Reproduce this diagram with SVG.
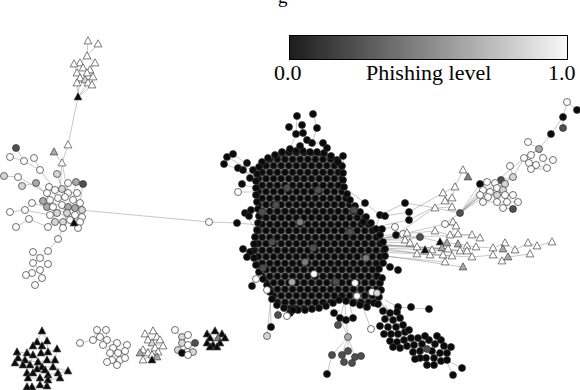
<svg xmlns="http://www.w3.org/2000/svg" xmlns:xlink="http://www.w3.org/1999/xlink" width="580" height="390" viewBox="0 0 580 390">
<style>
.w{fill:#fff}.l{fill:#d6d6d6}.g{fill:#a9a9a9}.m{fill:#7c7c7c}.d{fill:#4f4f4f}.k{fill:#0a0a0a}
.e{stroke:#8e8e8e;stroke-width:.5;fill:none}
.lab{font-family:"Liberation Serif","Times New Roman",serif;fill:#000}
</style>
<defs>
<circle id="c" r="3.5" stroke="#333" stroke-width=".7"/>
<path id="t" d="M0,-4.2L3.9,2.9H-3.9Z" stroke="#444" stroke-width=".7" stroke-linejoin="round"/>
<linearGradient id="bar" x1="0" x2="1" y1="0" y2="0"><stop offset="0" stop-color="#1c1c1c"/><stop offset="1" stop-color="#f8f8f8"/></linearGradient>
<pattern id="pk" width="7.6" height="13" patternUnits="userSpaceOnUse"><rect width="7.6" height="13" fill="#7a7a7a"/><g fill="#0a0a0a" stroke="#3a3a3a" stroke-width=".6"><circle cx="3.8" cy="3.25" r="3.4"/><circle cx="0" cy="9.75" r="3.4"/><circle cx="7.6" cy="9.75" r="3.4"/></g></pattern>
</defs>
<rect width="580" height="390" fill="#fff"/>
<text class="lab" x="278" y="3" font-size="19">g</text>
<g id="colorbar">
<rect x="289.5" y="35.5" width="278" height="24" fill="url(#bar)" stroke="#000" stroke-width="1"/>
<text class="lab" x="274" y="80" font-size="22">0.0</text>
<text class="lab" x="366" y="80" font-size="22">Phishing level</text>
<text class="lab" x="548" y="80" font-size="22">1.0</text>
</g>
<g id="connectors">
<path class="e" d="M88,41L87,56M98,44L87,56M87,56L80,63M87,56L95,63M80,63L83,68M74,64L77,73M95,63L90,70M83,68L87,73M90,70L93,77M77,73L80,78M87,73L85,80M80,78L88,83M85,80L77,83M93,77L92,85M88,83L78,97M80,78L78,97M77,83L78,97M92,85L78,97M78,97L68,145M68,145L62,163M54,152L62,163M62,163L60,189M62,163L68,193M16,148L24,161M10,157L24,161M24,161L40,170M34,158L40,170M40,170L55,190M4,176L18,177M18,177L47,193M22,186L36,183M36,183L50,200M57,174L62,189M49,187L58,198M68,183L65,197M76,182L73,200M83,184L80,203M10,212L25,210M25,210L32,203M32,203L47,207M25,210L50,215M29,219L48,227M16,227L29,219M74,223L63,208M74,223L82,210M58,239L63,228M58,239L48,251M48,251L40,258M33,252L40,258M40,258L33,263M40,258L48,264M33,263L40,270M48,264L40,270M40,270L32,273M32,273L27,275M40,270L42,278M42,278L35,285M55,190L76,193M47,207L75,215M50,200L80,221M53,207L78,228M62,205L48,227M68,207L63,228M80,210L209,222L237,223"/>
<path class="e" d="M268,262L252,286M268,262L256,279M270,270L267,290M265,255L243,249M265,255L250,252M265,258L247,257M270,280L271,327M272,285L267,336M275,290L278,315M285,295L287,316M290,300L290,313M300,300L293,310M262,240L245,213M262,230L248,215M260,225L237,223M262,220L260,218M297,116L296,134M313,114L317,128M289,127L296,134M302,125L303,133M317,128L312,143M303,133L307,140M296,134L290,149M307,140L300,147M312,143L323,143M323,143L327,148M233,154L255,170M227,157L255,172M224,164L258,176M238,168L258,180M243,185L258,188M238,192L258,192M343,156L345,188L365,203M365,203L354,210M365,203L380,215M372,222L363,222M375,230L380,215M380,215L405,203M380,218L385,216M385,216L409,212M385,225L409,220M382,229L395,227M385,238L396,235M385,238L403,234M405,203L435,208M409,212L443,193M409,220L452,198M403,234L445,224M396,235L434,208"/>
<path class="e" d="M380,245L416,247M380,248L430,255M380,250L442,255M382,240L405,240M380,242L410,243M378,236L435,231M380,245L441,248M380,246L448,249M380,248L460,251M380,244L467,251M378,238L471,235M382,252L452,256M383,256L445,262M380,255L463,267M378,240L420,237M385,262L398,270M383,262L390,267M378,275L382,278M405,240L420,237L440,242L458,244L476,247L493,248L505,243L515,250L528,243L537,246L552,242M416,247L425,250L431,250L442,248L448,249L460,251L467,251M430,255L443,255L452,256L472,257L493,255L502,261L508,257L530,254M445,224L456,226L450,235L458,234L472,235L480,238M435,231L450,235M463,170L468,177M463,170L455,187M455,187L443,193M455,187L452,198M443,193L452,207M435,208L452,207M451,197L445,201M460,213L480,184M460,213L483,190M460,213L480,195M460,213L487,182M460,213L501,180M460,213L513,177M460,213L524,158M460,213L444,224M460,213L435,208M567,102L577,110M567,102L563,117M563,117L563,128M563,117L551,134M551,134L539,149M539,149L528,142M539,149L531,155M539,149L524,158M539,149L543,158M531,155L529,163M543,158L553,160M543,158L547,168M529,163L536,165M536,165L546,168M531,169L546,169M513,177L524,158M510,166L513,177M513,177L501,180M513,177L496,188M501,180L505,184M480,184L487,182M487,182L495,183M495,183L505,184M483,190L490,192M490,192L497,188M497,188L503,190M480,195L488,197M488,197L497,195M497,195L505,195M505,195L513,195M483,202L497,202M497,202L507,202M507,202L518,202M503,208L513,209"/>
<path class="e" d="M398,307L411,308M411,308L429,309M385,300L398,307M378,300L390,313M375,305L383,312M380,300L396,327M385,305L405,332M390,320L415,344M395,330L436,346M400,335L440,354M405,340L446,360M410,340L428,342M446,360L462,368M446,360L453,375M345,300L340,318M345,305L346,320M350,305L353,318M340,310L334,313M340,318L348,337M346,320L348,337M348,337L342,355M348,337L355,357M348,337L348,352M348,337L332,355M332,355L327,374M360,300L371,329M365,290L372,292M360,285L357,296"/>
<path class="e" d="M42,331L37,342M42,331L47,341M37,342L33,346M47,341L42,346M42,346L41,353M41,353L48,352M48,352L57,349M17,352L27,353M27,353L33,355M18,358L25,360M25,360L38,362M38,362L47,360M47,360L55,360M15,363L23,365M23,365L30,365M30,365L42,367M42,367L53,367M45,370L37,369M27,373L33,373M48,375L58,373M58,373L68,371M28,378L40,378M40,378L48,380M60,378L48,380M40,385L32,387M32,387L27,387M47,386L40,385M33,346L27,353M57,349L55,360M33,355L30,365M38,362L42,367M55,360L53,367M37,369L33,373M45,370L48,375M33,373L28,378M48,375L48,380M40,378L40,385M17,352L18,358M25,360L23,365M47,341L48,352M53,367L68,371M60,378L58,373M80,343L93,340M93,340L97,330M97,330L106,330M93,340L100,337M100,337L107,340M106,330L107,340M107,340L117,343M107,340L103,345M103,345L113,348M113,348L115,347M117,343L127,345M113,348L110,353M110,353L118,353M118,353L125,351M118,353L120,360M110,353L112,360M112,360L107,362M112,360L117,365M120,360L125,358M117,365L120,360M125,351L125,358M103,345L110,353M117,343L118,353M145,334L153,331M153,331L157,337M145,334L148,340M148,340L160,340M157,337L160,340M148,340L152,343M152,343L163,346M152,343L155,348M143,350L155,348M155,348L158,352M143,350L148,353M148,353L140,353M148,353L152,355M152,355L143,360M152,355L152,360M157,357L152,355M158,352L157,357M175,330L182,337M182,337L188,335M182,337L182,343M182,343L188,345M188,345L195,343M182,343L178,350M178,350L187,352M187,352L193,352M183,353L188,355M207,334L215,331M215,331L222,334M207,334L210,338M210,338L218,338M218,338L225,338M207,343L213,345M213,345L220,343M220,343L217,347M210,347L213,345M210,338L207,343M218,338L220,343"/>
</g>
<g id="left-top-triangles">
<use href="#t" class="w" x="88" y="41"/><use href="#t" class="w" x="98" y="44"/><use href="#t" class="w" x="87" y="56"/><use href="#t" class="w" x="80" y="63"/><use href="#t" class="w" x="74" y="64"/><use href="#t" class="w" x="95" y="63"/><use href="#t" class="w" x="83" y="68"/><use href="#t" class="w" x="90" y="70"/><use href="#t" class="w" x="77" y="73"/><use href="#t" class="w" x="87" y="73"/><use href="#t" class="w" x="93" y="77"/><use href="#t" class="w" x="80" y="78"/><use href="#t" class="l" x="85" y="80"/><use href="#t" class="w" x="88" y="83"/><use href="#t" class="w" x="77" y="83"/><use href="#t" class="w" x="92" y="85"/>
<use href="#t" class="k" x="78" y="97"/>
<use href="#t" class="w" x="68" y="145"/><use href="#t" class="g" x="54" y="152"/><use href="#t" class="w" x="62" y="163"/>
</g>
<g id="left-cluster">
<use href="#c" class="d" x="16" y="148"/><use href="#c" class="w" x="10" y="157"/><use href="#c" class="w" x="24" y="161"/><use href="#c" class="w" x="34" y="158"/><use href="#c" class="w" x="40" y="170"/>
<use href="#c" class="l" x="4" y="176"/><use href="#c" class="w" x="18" y="177"/><use href="#c" class="l" x="22" y="186"/><use href="#c" class="g" x="36" y="183"/>
<use href="#c" class="l" x="57" y="174"/><use href="#c" class="w" x="49" y="187"/><use href="#c" class="w" x="68" y="183"/><use href="#c" class="g" x="76" y="182"/><use href="#c" class="d" x="83" y="184"/>
<use href="#c" class="w" x="47" y="193"/><use href="#c" class="w" x="55" y="190"/><use href="#c" class="l" x="62" y="189"/><use href="#c" class="w" x="68" y="193"/><use href="#c" class="w" x="77" y="193"/>
<use href="#c" class="g" x="43" y="201"/><use href="#c" class="w" x="50" y="200"/><use href="#c" class="w" x="58" y="198"/><use href="#c" class="w" x="65" y="197"/><use href="#c" class="w" x="73" y="200"/><use href="#c" class="w" x="80" y="203"/>
<use href="#c" class="g" x="47" y="207"/><use href="#c" class="w" x="53" y="207"/><use href="#c" class="w" x="62" y="205"/><use href="#c" class="g" x="68" y="207"/><use href="#c" class="g" x="75" y="208"/><use href="#c" class="l" x="82" y="210"/>
<use href="#c" class="w" x="50" y="215"/><use href="#c" class="l" x="57" y="213"/><use href="#c" class="l" x="67" y="213"/><use href="#c" class="w" x="75" y="215"/><use href="#c" class="w" x="82" y="217"/>
<use href="#c" class="l" x="55" y="222"/><use href="#c" class="l" x="63" y="222"/><use href="#c" class="w" x="70" y="220"/><use href="#c" class="w" x="80" y="222"/>
<use href="#c" class="w" x="48" y="227"/><use href="#c" class="w" x="63" y="228"/><use href="#c" class="w" x="78" y="228"/>
<use href="#c" class="w" x="10" y="212"/><use href="#c" class="w" x="25" y="210"/><use href="#c" class="w" x="32" y="203"/><use href="#c" class="w" x="29" y="219"/><use href="#c" class="w" x="16" y="227"/>
<use href="#t" class="k" x="74" y="223"/>
<use href="#c" class="w" x="58" y="239"/>
<use href="#c" class="w" x="33" y="252"/><use href="#c" class="w" x="48" y="251"/><use href="#c" class="w" x="40" y="258"/><use href="#c" class="w" x="33" y="263"/><use href="#c" class="w" x="48" y="264"/><use href="#c" class="w" x="40" y="270"/><use href="#c" class="w" x="32" y="273"/><use href="#c" class="w" x="26" y="275"/><use href="#c" class="w" x="42" y="278"/><use href="#c" class="w" x="35" y="285"/>
<use href="#c" class="w" x="209" y="222"/>
</g>
<g id="bottom-black-triangles">
<use href="#t" class="k" x="42" y="331"/><use href="#t" class="k" x="37" y="342"/><use href="#t" class="k" x="47" y="341"/><use href="#t" class="k" x="33" y="346"/><use href="#t" class="k" x="42" y="346"/><use href="#t" class="k" x="41" y="353"/><use href="#t" class="k" x="48" y="352"/><use href="#t" class="k" x="57" y="349"/><use href="#t" class="k" x="17" y="352"/><use href="#t" class="k" x="27" y="353"/><use href="#t" class="k" x="33" y="355"/><use href="#t" class="k" x="18" y="358"/><use href="#t" class="k" x="25" y="360"/><use href="#t" class="k" x="38" y="362"/><use href="#t" class="k" x="47" y="360"/><use href="#t" class="k" x="55" y="360"/><use href="#t" class="k" x="15" y="363"/><use href="#t" class="k" x="23" y="365"/><use href="#t" class="k" x="30" y="365"/><use href="#t" class="k" x="42" y="367"/><use href="#t" class="k" x="53" y="367"/><use href="#t" class="k" x="45" y="370"/><use href="#t" class="k" x="37" y="369"/><use href="#t" class="k" x="27" y="373"/><use href="#t" class="k" x="33" y="373"/><use href="#t" class="k" x="48" y="375"/><use href="#t" class="k" x="68" y="371"/><use href="#t" class="k" x="58" y="373"/><use href="#t" class="k" x="28" y="378"/><use href="#t" class="k" x="40" y="378"/><use href="#t" class="k" x="60" y="378"/><use href="#t" class="k" x="48" y="380"/><use href="#t" class="k" x="40" y="385"/><use href="#t" class="k" x="32" y="387"/><use href="#t" class="k" x="47" y="386"/><use href="#t" class="k" x="27" y="387"/>
</g>
<g id="bottom-white-circles">
<use href="#c" class="w" x="80" y="343"/><use href="#c" class="w" x="93" y="340"/><use href="#c" class="w" x="97" y="330"/><use href="#c" class="w" x="106" y="330"/><use href="#c" class="w" x="100" y="337"/><use href="#c" class="w" x="107" y="340"/><use href="#c" class="w" x="117" y="343"/><use href="#c" class="w" x="103" y="345"/><use href="#c" class="w" x="113" y="348"/><use href="#c" class="w" x="127" y="345"/><use href="#c" class="w" x="110" y="353"/><use href="#c" class="w" x="118" y="353"/><use href="#c" class="w" x="125" y="351"/><use href="#c" class="w" x="112" y="360"/><use href="#c" class="w" x="120" y="360"/><use href="#c" class="w" x="107" y="362"/><use href="#c" class="w" x="117" y="365"/><use href="#c" class="w" x="125" y="358"/>
</g>
<g id="bottom-white-triangles">
<use href="#t" class="w" x="145" y="334"/><use href="#t" class="w" x="153" y="331"/><use href="#t" class="w" x="157" y="337"/><use href="#t" class="w" x="148" y="340"/><use href="#t" class="w" x="160" y="340"/><use href="#t" class="l" x="152" y="343"/><use href="#t" class="w" x="163" y="346"/><use href="#t" class="w" x="155" y="348"/><use href="#t" class="w" x="143" y="350"/><use href="#t" class="w" x="158" y="352"/><use href="#t" class="w" x="148" y="353"/><use href="#t" class="g" x="140" y="353"/><use href="#t" class="w" x="152" y="355"/><use href="#t" class="w" x="143" y="360"/><use href="#t" class="g" x="157" y="357"/><use href="#t" class="k" x="152" y="360"/>
</g>
<g id="bottom-mixed-circles">
<use href="#c" class="w" x="175" y="330"/><use href="#c" class="l" x="182" y="337"/><use href="#c" class="w" x="188" y="335"/><use href="#c" class="l" x="182" y="343"/><use href="#c" class="w" x="188" y="345"/><use href="#c" class="d" x="195" y="343"/><use href="#c" class="l" x="178" y="350"/><use href="#c" class="w" x="187" y="352"/><use href="#c" class="l" x="193" y="352"/><use href="#c" class="k" x="182" y="353"/><use href="#c" class="w" x="188" y="355"/>
</g>
<g id="bottom-right-triangles">
<use href="#t" class="k" x="207" y="334"/><use href="#t" class="k" x="215" y="331"/><use href="#t" class="k" x="222" y="334"/><use href="#t" class="k" x="210" y="338"/><use href="#t" class="m" x="218" y="338"/><use href="#t" class="k" x="225" y="338"/><use href="#t" class="k" x="207" y="343"/><use href="#t" class="k" x="213" y="345"/><use href="#t" class="k" x="220" y="343"/><use href="#t" class="k" x="217" y="347"/><use href="#t" class="k" x="210" y="347"/>
</g>
<g id="core">
<path d="M262,162L280,154L300,152L320,152L334,157L342,166L342,186L348,200L357,210L370,222L380,235L384,250L382,262L376,275L380,290L377,300L368,306L355,303L340,298L330,303L315,307L300,309L285,307L274,302L270,290L264,278L257,265L254,245L257,228L259,212L257,195L257,178Z" fill="url(#pk)"/>
<g class="k">
<use href="#c" x="262" y="162"/><use href="#c" x="268" y="158"/><use href="#c" x="275" y="155"/><use href="#c" x="282" y="153"/><use href="#c" x="289" y="152"/><use href="#c" x="296" y="151"/><use href="#c" x="303" y="151"/><use href="#c" x="310" y="152"/><use href="#c" x="317" y="152"/><use href="#c" x="324" y="153"/><use href="#c" x="331" y="156"/><use href="#c" x="337" y="160"/><use href="#c" x="342" y="166"/><use href="#c" x="343" y="173"/><use href="#c" x="343" y="180"/><use href="#c" x="344" y="187"/><use href="#c" x="347" y="194"/><use href="#c" x="350" y="200"/><use href="#c" x="355" y="206"/><use href="#c" x="360" y="212"/><use href="#c" x="366" y="217"/><use href="#c" x="371" y="223"/><use href="#c" x="376" y="229"/><use href="#c" x="380" y="235"/><use href="#c" x="383" y="242"/><use href="#c" x="385" y="249"/><use href="#c" x="385" y="256"/><use href="#c" x="383" y="263"/><use href="#c" x="379" y="269"/><use href="#c" x="377" y="276"/><use href="#c" x="380" y="283"/><use href="#c" x="381" y="290"/><use href="#c" x="379" y="297"/><use href="#c" x="374" y="303"/><use href="#c" x="367" y="307"/><use href="#c" x="360" y="305"/><use href="#c" x="353" y="303"/><use href="#c" x="346" y="301"/><use href="#c" x="339" y="300"/><use href="#c" x="333" y="303"/><use href="#c" x="326" y="306"/><use href="#c" x="319" y="308"/><use href="#c" x="312" y="309"/><use href="#c" x="305" y="310"/><use href="#c" x="298" y="310"/><use href="#c" x="291" y="309"/><use href="#c" x="284" y="308"/><use href="#c" x="277" y="305"/><use href="#c" x="272" y="299"/><use href="#c" x="270" y="292"/><use href="#c" x="267" y="285"/><use href="#c" x="263" y="279"/><use href="#c" x="259" y="272"/><use href="#c" x="256" y="265"/><use href="#c" x="254" y="258"/><use href="#c" x="253" y="251"/><use href="#c" x="254" y="244"/><use href="#c" x="255" y="237"/><use href="#c" x="257" y="230"/><use href="#c" x="258" y="223"/><use href="#c" x="259" y="216"/><use href="#c" x="258" y="209"/><use href="#c" x="257" y="202"/><use href="#c" x="256" y="195"/><use href="#c" x="256" y="188"/><use href="#c" x="256" y="181"/><use href="#c" x="257" y="174"/><use href="#c" x="259" y="167"/>
<use href="#c" x="297" y="116"/><use href="#c" x="313" y="114"/><use href="#c" x="289" y="127"/><use href="#c" x="302" y="125"/><use href="#c" x="317" y="128"/><use href="#c" x="296" y="134"/><use href="#c" x="303" y="133"/><use href="#c" x="307" y="140"/><use href="#c" x="312" y="143"/><use href="#c" x="323" y="143"/><use href="#c" x="327" y="148"/><use href="#c" x="290" y="149"/><use href="#c" x="300" y="146"/><use href="#c" x="282" y="152"/><use href="#c" x="343" y="156"/><use href="#c" x="338" y="162"/>
<use href="#c" x="233" y="154"/><use href="#c" x="227" y="157"/><use href="#c" x="224" y="164"/><use href="#c" x="238" y="168"/><use href="#c" x="243" y="170"/><use href="#c" x="247" y="163"/><use href="#c" x="253" y="170"/><use href="#c" x="242" y="184"/><use href="#c" x="250" y="178"/>
<use href="#c" x="245" y="213"/><use href="#c" x="249" y="216"/><use href="#c" x="237" y="223"/><use href="#c" x="251" y="210"/>
<use href="#c" x="365" y="203"/><use href="#c" x="363" y="222"/><use href="#c" x="380" y="215"/><use href="#c" x="385" y="216"/><use href="#c" x="405" y="203"/><use href="#c" x="409" y="212"/><use href="#c" x="409" y="220"/><use href="#c" x="382" y="229"/><use href="#c" x="396" y="235"/>
<use href="#c" x="243" y="249"/><use href="#c" x="250" y="252"/><use href="#c" x="247" y="257"/><use href="#c" x="252" y="286"/><use href="#c" x="271" y="327"/><use href="#c" x="290" y="313"/><use href="#c" x="293" y="310"/>
<use href="#c" x="334" y="313"/><use href="#c" x="340" y="318"/><use href="#c" x="346" y="320"/><use href="#c" x="353" y="318"/><use href="#c" x="327" y="374"/>
<use href="#c" x="398" y="270"/><use href="#c" x="390" y="267"/><use href="#c" x="382" y="278"/><use href="#c" x="398" y="307"/><use href="#c" x="411" y="307"/><use href="#c" x="429" y="309"/><use href="#c" x="462" y="368"/><use href="#c" x="453" y="375"/>
</g>
<g id="tail" class="k">
<use href="#c" x="378" y="304"/><use href="#c" x="383" y="311"/><use href="#c" x="390" y="313"/><use href="#c" x="385" y="319"/><use href="#c" x="393" y="320"/><use href="#c" x="400" y="318"/><use href="#c" x="388" y="327"/><use href="#c" x="396" y="327"/><use href="#c" x="403" y="325"/><use href="#c" x="391" y="334"/><use href="#c" x="398" y="334"/><use href="#c" x="405" y="332"/><use href="#c" x="390" y="341"/><use href="#c" x="397" y="342"/><use href="#c" x="404" y="340"/><use href="#c" x="411" y="338"/><use href="#c" x="407" y="346"/><use href="#c" x="414" y="345"/><use href="#c" x="418" y="338"/><use href="#c" x="422" y="344"/><use href="#c" x="429" y="340"/><use href="#c" x="420" y="351"/><use href="#c" x="435" y="344"/><use href="#c" x="432" y="351"/><use href="#c" x="441" y="340"/><use href="#c" x="444" y="346"/><use href="#c" x="447" y="353"/><use href="#c" x="440" y="353"/><use href="#c" x="434" y="358"/><use href="#c" x="426" y="358"/><use href="#c" x="427" y="365"/><use href="#c" x="434" y="365"/><use href="#c" x="441" y="361"/><use href="#c" x="447" y="360"/><use href="#c" x="413" y="352"/><use href="#c" x="400" y="348"/><use href="#c" x="420" y="358"/><use href="#c" x="437" y="336"/>
<use href="#c" x="409" y="330"/><use href="#c" x="384" y="334"/><use href="#c" x="425" y="336"/><use href="#c" x="451" y="347"/><use href="#c" x="393" y="347"/><use href="#c" x="415" y="359"/><use href="#c" x="380" y="326"/><use href="#c" x="397" y="312"/>
</g>
<use href="#c" class="d" x="427" y="349"/>
<use href="#c" class="w" x="238" y="192"/>
<use href="#c" class="d" x="354" y="210"/>
<use href="#c" class="w" x="395" y="227"/><use href="#c" class="w" x="403" y="234"/>
<use href="#c" class="d" x="263" y="268"/><use href="#c" class="w" x="256" y="279"/><use href="#c" class="w" x="267" y="290"/><use href="#c" class="l" x="267" y="336"/><use href="#c" class="d" x="278" y="315"/><use href="#c" class="w" x="287" y="316"/>
<use href="#c" class="d" x="338" y="325"/><use href="#c" class="g" x="348" y="337"/><use href="#c" class="d" x="332" y="355"/><use href="#c" class="d" x="342" y="355"/><use href="#c" class="d" x="348" y="351"/><use href="#c" class="d" x="355" y="357"/><use href="#c" class="d" x="361" y="356"/><use href="#c" class="d" x="344" y="362"/><use href="#c" class="d" x="352" y="363"/>
<use href="#c" class="w" x="371" y="329"/><use href="#c" class="w" x="357" y="296"/><use href="#c" class="w" x="372" y="292"/><use href="#c" class="l" x="377" y="293"/><use href="#c" class="w" x="355" y="283"/><use href="#c" class="w" x="314" y="274"/>
<use href="#c" class="d" x="262" y="212"/><use href="#c" class="m" x="300" y="222"/><use href="#c" class="d" x="276" y="205"/><use href="#c" class="d" x="318" y="190"/><use href="#c" class="d" x="272" y="242"/><use href="#c" class="d" x="313" y="248"/><use href="#c" class="d" x="350" y="232"/><use href="#c" class="d" x="287" y="188"/><use href="#c" class="g" x="292" y="282"/><use href="#c" class="d" x="336" y="282"/><use href="#c" class="m" x="366" y="258"/><use href="#c" class="m" x="305" y="262"/>
</g>
<g id="right-cluster">
<use href="#c" class="w" x="567" y="102"/><use href="#c" class="k" x="577" y="110"/><use href="#c" class="k" x="563" y="117"/><use href="#c" class="d" x="563" y="128"/><use href="#c" class="k" x="551" y="134"/><use href="#c" class="g" x="539" y="149"/><use href="#c" class="w" x="528" y="142"/>
<use href="#c" class="w" x="524" y="158"/><use href="#c" class="w" x="531" y="155"/><use href="#c" class="w" x="543" y="158"/><use href="#c" class="w" x="553" y="160"/><use href="#c" class="w" x="529" y="163"/><use href="#c" class="w" x="536" y="165"/><use href="#c" class="w" x="547" y="168"/><use href="#c" class="w" x="531" y="169"/><use href="#c" class="w" x="510" y="166"/><use href="#c" class="l" x="513" y="177"/><use href="#c" class="d" x="501" y="180"/>
<use href="#c" class="k" x="480" y="184"/><use href="#c" class="w" x="487" y="182"/><use href="#c" class="w" x="495" y="183"/><use href="#c" class="l" x="505" y="184"/><use href="#c" class="w" x="483" y="190"/><use href="#c" class="w" x="490" y="192"/><use href="#c" class="w" x="497" y="188"/><use href="#c" class="l" x="503" y="190"/><use href="#c" class="w" x="480" y="195"/><use href="#c" class="w" x="488" y="197"/><use href="#c" class="l" x="497" y="195"/><use href="#c" class="w" x="505" y="195"/><use href="#c" class="w" x="513" y="195"/><use href="#c" class="w" x="483" y="202"/><use href="#c" class="w" x="497" y="202"/><use href="#c" class="w" x="507" y="202"/><use href="#c" class="w" x="518" y="202"/><use href="#c" class="w" x="503" y="208"/><use href="#c" class="d" x="513" y="209"/>
<use href="#c" class="d" x="460" y="213"/>
<use href="#t" class="w" x="463" y="170"/><use href="#t" class="m" x="468" y="177"/><use href="#t" class="w" x="455" y="187"/><use href="#t" class="w" x="443" y="193"/><use href="#t" class="w" x="452" y="198"/><use href="#t" class="w" x="445" y="201"/><use href="#t" class="w" x="435" y="208"/><use href="#t" class="w" x="452" y="207"/>
<use href="#c" class="w" x="445" y="224"/><use href="#t" class="w" x="453" y="222"/><use href="#t" class="w" x="456" y="226"/>
<use href="#c" class="d" x="420" y="237"/>
<use href="#t" class="w" x="435" y="231"/><use href="#t" class="w" x="450" y="235"/><use href="#t" class="w" x="458" y="234"/><use href="#t" class="w" x="472" y="235"/><use href="#t" class="w" x="480" y="238"/><use href="#t" class="w" x="407" y="233"/><use href="#t" class="w" x="405" y="240"/><use href="#t" class="w" x="410" y="243"/><use href="#t" class="k" x="440" y="242"/><use href="#t" class="g" x="447" y="243"/><use href="#t" class="g" x="458" y="244"/><use href="#t" class="w" x="467" y="246"/><use href="#t" class="w" x="476" y="247"/><use href="#t" class="w" x="417" y="247"/><use href="#t" class="k" x="425" y="250"/><use href="#t" class="w" x="432" y="250"/><use href="#t" class="g" x="442" y="248"/><use href="#t" class="w" x="448" y="249"/><use href="#t" class="w" x="460" y="251"/><use href="#t" class="w" x="467" y="251"/><use href="#t" class="w" x="417" y="254"/><use href="#t" class="w" x="430" y="255"/><use href="#t" class="w" x="443" y="255"/><use href="#t" class="w" x="452" y="256"/><use href="#t" class="w" x="472" y="257"/><use href="#t" class="w" x="445" y="262"/><use href="#t" class="g" x="463" y="267"/>
<use href="#t" class="w" x="493" y="248"/><use href="#t" class="w" x="505" y="243"/><use href="#t" class="g" x="503" y="249"/><use href="#t" class="w" x="515" y="250"/><use href="#t" class="w" x="528" y="243"/><use href="#t" class="w" x="537" y="246"/><use href="#t" class="w" x="552" y="242"/><use href="#t" class="w" x="493" y="255"/><use href="#t" class="w" x="502" y="261"/><use href="#t" class="g" x="508" y="257"/><use href="#t" class="w" x="530" y="254"/>
</g>
</svg>
